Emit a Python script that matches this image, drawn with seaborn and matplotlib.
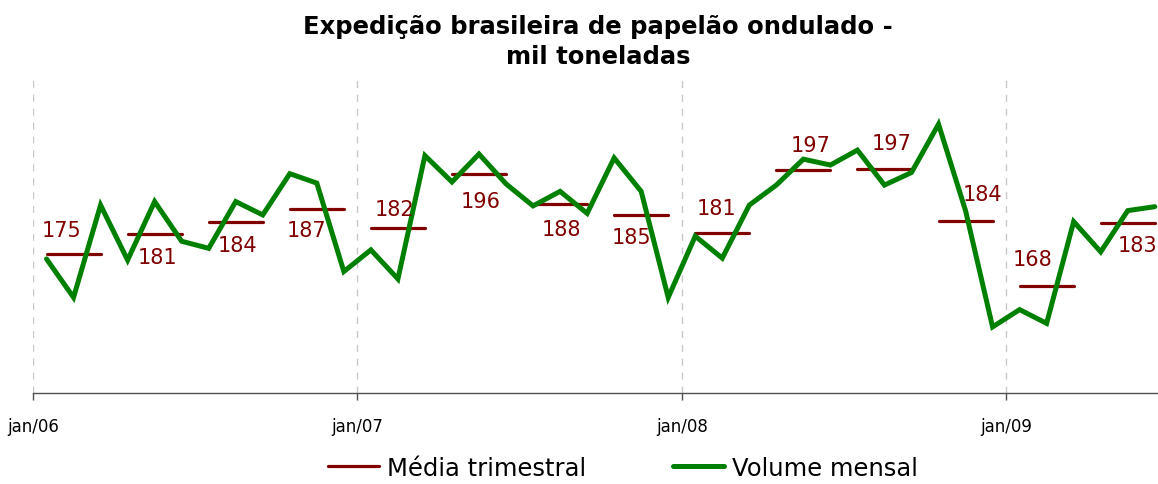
import matplotlib
matplotlib.use("Agg")
import matplotlib.pyplot as plt
import seaborn as sns
import pandas as pd
from matplotlib.lines import Line2D

# ---------------- data ----------------
months = [f"{m}/{y}" for y in ["06", "07", "08", "09"]
          for m in ["jan", "fev", "mar", "abr", "mai", "jun",
                    "jul", "ago", "set", "out", "nov", "dez"]][:42]
volume = [174.2, 164.4, 187.9, 173.9, 188.8, 178.7, 176.9, 188.8, 185.4, 195.9, 193.5, 171.0,
          176.5, 169.1, 200.5, 193.8, 200.9, 193.3, 187.7, 191.4, 185.8, 199.9, 191.4, 164.4,
          180.0, 174.4, 187.9, 193.0, 199.6, 198.1, 201.9, 193.0, 196.2, 208.5, 186.5, 156.9,
          161.3, 157.8, 183.7, 176.0, 186.5, 187.5]
quarter_avg = [175.5, 180.6, 183.7, 186.9, 182.0, 195.9, 188.3, 185.4,
               180.7, 196.9, 197.1, 183.9, 167.4, 183.3]
quarter_labels = ["175", "181", "184", "187", "182", "196", "188", "185",
                  "181", "197", "197", "184", "168", "183"]
year_ticks = ["jan/06", "jan/07", "jan/08", "jan/09"]

# label offsets (pixels) relative to each segment centre: (dx, dy)
label_offsets = [(-12, -24), (3, 23), (2, 23), (-10, 21), (-3, -19), (2, 27), (1, 25), (-10, 22),
                 (-6, -25), (7, -25), (7, -26), (17, -27), (-14, -27), (10, 22)]

RED = "#800000"
GREEN = "#008000"

sns.set_theme(style="white")
plt.rcParams["font.family"] = ["DejaVu Sans"]
plt.rcParams["text.color"] = "black"

fig = plt.figure(figsize=(11.58, 4.85), dpi=100)
W, H = 1158, 485
ax = fig.add_axes([33 / W, 1 - 394.3 / H, (W - 33) / W, (394.3 - 80) / H])

# quarterly segments
rows = []
for q, v in enumerate(quarter_avg):
    rows.append({"x": 3 * q, "y": v, "q": q})
    rows.append({"x": 3 * q + 2, "y": v, "q": q})
qdf = pd.DataFrame(rows)
sns.lineplot(data=qdf, x="x", y="y", units="q", estimator=None, color=RED,
             linewidth=2.3, ax=ax, zorder=2)

# monthly line
mdf = pd.DataFrame({"x": range(len(volume)), "y": volume})
sns.lineplot(data=mdf, x="x", y="y", color=GREEN, linewidth=3.6, ax=ax, zorder=3,
             solid_joinstyle="miter")

for q, (v, lab) in enumerate(zip(quarter_avg, quarter_labels)):
    dx, dy = label_offsets[q]
    ax.annotate(lab, xy=(3 * q + 1, v), xytext=(dx * 0.72, -dy * 0.72),
                textcoords="offset points", ha="center", va="center",
                color=RED, fontsize=15, zorder=4)

ax.set_xlim(-0.5, 41.12)
ax.set_ylim(140, 220)
ax.set_yticks([])
tick_pos = [-0.5, 11.5, 23.5, 35.5]
ax.set_xticks(tick_pos)
ax.set_xticklabels(year_ticks, fontsize=12, color="black")
ax.tick_params(axis="x", direction="out", length=5, width=1, color="#505050",
               pad=12, bottom=True)
for p in tick_pos:
    ax.axvline(p, color="#c8c8c8", linewidth=1, linestyle=(0, (5, 5)), zorder=0)
for s in ["top", "right", "left"]:
    ax.spines[s].set_visible(False)
ax.spines["bottom"].set_color("#505050")
ax.spines["bottom"].set_linewidth(1)
ax.set_xlabel("")
ax.set_ylabel("")

fig.text(598 / W, 1 - 42 / H, "Expedição brasileira de papelão ondulado -\nmil toneladas",
         ha="center", va="center", fontsize=17.5, fontweight="bold", linespacing=1.3,
         color="black")

handles = [Line2D([], [], color=RED, linewidth=2.3),
           Line2D([], [], color=GREEN, linewidth=3.6)]
leg = fig.legend(handles, ["Média trimestral", "Volume mensal"], loc="center",
                 bbox_to_anchor=(623 / W, 1 - 469 / H), ncol=2, frameon=False,
                 fontsize=17.5, handlelength=2.1, handletextpad=0.3, columnspacing=3.6)
for t in leg.get_texts():
    t.set_color("black")

fig.savefig("out.png", dpi=100)
